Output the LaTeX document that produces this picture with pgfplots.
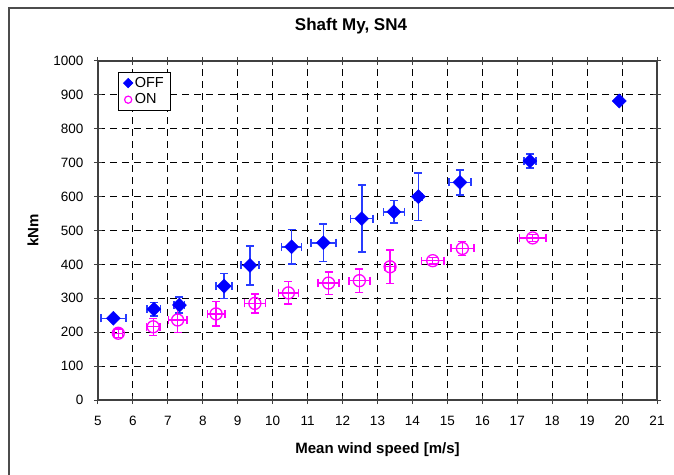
\documentclass[border=0pt]{standalone}
\usepackage{pgfplots}
\pgfplotsset{compat=1.18}
\usepackage{fontspec}
\setmainfont{Liberation Sans}
\definecolor{offblue}{RGB}{0,0,255}
\definecolor{offbar}{RGB}{40,60,255}
\definecolor{onmag}{RGB}{255,0,255}
\begin{document}
\begin{tikzpicture}
\path[use as bounding box] (-98pt,-74pt) rectangle (576pt,400pt);
\draw[line width=1.5pt, black!70] (-89pt,-80pt) -- (-89pt,392pt) -- (590pt,392pt);
\begin{axis}[
  at={(0pt,0pt)}, anchor=south west,
  scale only axis, width=559pt, height=339pt,
  xmin=5, xmax=21, ymin=0, ymax=1000,
  xtick={5,6,...,21}, ytick={0,100,...,1000},
  grid=major,
  major grid style={black, dash pattern=on 7pt off 5pt, line width=0.9pt},
  axis line style={black!75, line width=1.3pt},
  tick align=center, major tick length=8pt,
  tick style={black!75, line width=1pt},
  tick label style={font=\fontsize{13.5}{16}\selectfont},
  xticklabel style={yshift=-9pt},
  yticklabel style={xshift=-7pt},
  /pgf/number format/assume math mode=true,
  /pgf/number format/1000 sep={},
  title={Shaft My, SN4},
  title style={at={(axis description cs:0.4526,1.0855)}, anchor=center, font=\bfseries\fontsize{17}{20}\selectfont},
  xlabel={Mean wind speed [m/s]},
  ylabel={kNm},
  xlabel style={at={(axis description cs:0.5,-0.1475)}, anchor=center, font=\bfseries\fontsize{15}{18}\selectfont},
  ylabel style={at={(axis description cs:-0.1163,0.5)}, anchor=center, font=\bfseries\fontsize{15}{18}\selectfont},
  legend style={at={(axis description cs:0.036,0.968)}, anchor=north west, draw=black, line width=0.8pt,
    font=\fontsize{14.5}{17}\selectfont, inner xsep=5pt, inner ysep=3pt, row sep=1pt},
  legend cell align=left,
]
\addplot[forget plot, only marks, color=offblue, mark=square*, mark size=5pt,
  mark options={rotate=45, fill=offblue, draw=offblue, line width=0.3pt},
  error bars/.cd, x dir=both, x explicit, y dir=both, y explicit,
  error bar style={line width=1.6pt, color=offbar},
  error mark options={rotate=90, line width=1.6pt, mark size=4pt, color=offbar}]
coordinates {
(5.44,241) +- (0.36,0)
(6.60,268) +- (0.19,20)
(7.33,280) +- (0.15,23)
(8.61,336) +- (0.23,37)
(9.35,397) +- (0.26,57)
(10.54,452) +- (0.29,51)
(11.45,464) +- (0.36,55)
(12.55,535) +- (0.32,99)
(13.47,555) +- (0.30,33)
(14.17,600) +- (0.10,70)
(15.36,642) +- (0.32,37)
(17.36,705) +- (0.17,21)
(19.92,882) +- (0,0)
};
\addplot[forget plot, only marks, color=onmag, mark=o, mark size=6pt,
  mark options={draw=onmag, line width=1.3pt},
  error bars/.cd, x dir=both, x explicit, y dir=both, y explicit,
  error bar style={line width=1.4pt, color=onmag},
  error mark options={rotate=90, line width=1.4pt, mark size=4pt, color=onmag}]
coordinates {
(5.58,197) +- (0.12,12)
(6.58,216) +- (0.20,25)
(7.28,236) +- (0.27,36)
(8.38,254) +- (0.25,36)
(9.49,285) +- (0.30,28)
(10.45,316) +- (0.29,33)
(11.60,345) +- (0.30,33)
(12.48,352) +- (0.30,35)
(13.36,393) +- (0.14,49)
(14.58,411) +- (0.32,10)
(15.43,447) +- (0.33,21)
(17.44,478) +- (0.38,10)
};
\addlegendimage{only marks, color=offblue, mark=square*, mark size=3.3pt, mark options={rotate=45, fill=offblue, draw=offblue}}
\addlegendentry{OFF}
\addlegendimage{only marks, color=onmag, mark=o, mark size=3.6pt, mark options={draw=onmag, line width=1.2pt}}
\addlegendentry{ON}
\end{axis}
\end{tikzpicture}
\end{document}
